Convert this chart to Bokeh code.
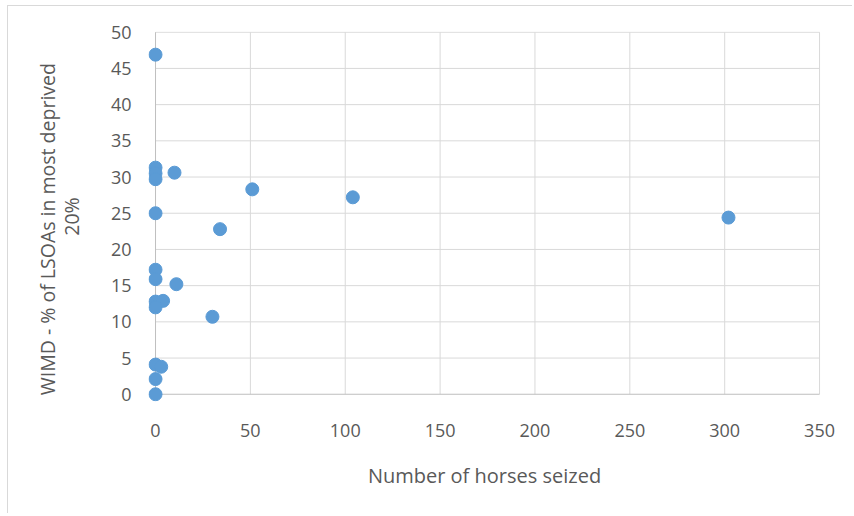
from bokeh.plotting import figure
from bokeh.models import ColumnDataSource, FixedTicker, Range1d
from bokeh.embed import file_html
from bokeh.resources import INLINE

# Data
horses_seized = [0, 0, 0, 0, 10, 51, 104, 302, 0, 34, 0, 0, 11, 0, 4, 0, 30, 0, 3, 0, 0]
wimd_pct = [46.9, 31.3, 30.5, 29.7, 30.6, 28.3, 27.2, 24.4, 25.0, 22.8, 17.2, 15.9, 15.2,
            12.8, 12.9, 12.0, 10.7, 4.1, 3.8, 2.1, 0.0]
x_ticks = [0, 50, 100, 150, 200, 250, 300, 350]
y_ticks = [0, 5, 10, 15, 20, 25, 30, 35, 40, 45, 50]

FONT = "Open Sans"
TEXT = "#595959"
GRID = "#d9d9d9"
AXIS = "#bfbfbf"

x_min, x_max = x_ticks[0], x_ticks[-1]
y_min, y_max = y_ticks[0], y_ticks[-1]

p = figure(output_backend="svg", toolbar_location=None,
           x_range=Range1d(x_min - 3.7, x_max + 0.5), y_range=Range1d(y_min - 1.0, y_max + 0.1),
           frame_width=672, frame_height=370,
           min_border_left=140, min_border_right=32, min_border_top=25, min_border_bottom=112)

# grid lines (drawn as segments so they stop at the axis lines)
p.segment(x0=[x_min] * (len(y_ticks) - 1), x1=[x_max] * (len(y_ticks) - 1),
          y0=y_ticks[1:], y1=y_ticks[1:], line_color=GRID, line_width=1)
p.segment(x0=x_ticks[1:], x1=x_ticks[1:], y0=[y_min] * (len(x_ticks) - 1),
          y1=[y_max] * (len(x_ticks) - 1), line_color=GRID, line_width=1)
# axis lines
p.segment(x0=[x_min, x_min], x1=[x_max, x_min], y0=[y_min, y_min], y1=[y_min, y_max],
          line_color=AXIS, line_width=1)

src = ColumnDataSource(dict(x=horses_seized, y=wimd_pct))
p.scatter("x", "y", source=src, size=13, fill_color="#5b9bd5", line_color="#5b9bd5")

p.xaxis.ticker = FixedTicker(ticks=x_ticks)
p.yaxis.ticker = FixedTicker(ticks=y_ticks)
for ax in (p.xaxis[0], p.yaxis[0]):
    ax.major_tick_line_color = None
    ax.minor_tick_line_color = None
    ax.axis_line_color = None
    ax.major_label_text_font = FONT
    ax.major_label_text_font_size = "18px"
    ax.major_label_text_color = TEXT
    ax.axis_label_text_font = FONT
    ax.axis_label_text_color = TEXT
    ax.axis_label_text_font_style = "normal"

p.xaxis.axis_label = "Number of horses seized"
p.yaxis.axis_label = "WIMD - % of LSOAs in most deprived" + "\u00a0" * 5 + "\n20%"
p.xaxis.axis_label_text_font_size = "20px"
p.yaxis.axis_label_text_font_size = "19.5px"
p.yaxis.axis_label_text_line_height = 0.9
p.xaxis.major_label_standoff = 16
p.xaxis.axis_label_standoff = 22
p.yaxis.major_label_standoff = 11
p.yaxis.axis_label_standoff = 23

p.grid.visible = False
p.outline_line_color = None
p.background_fill_color = "white"
p.border_fill_color = "white"
p.styles = {"margin-left": "7px", "margin-top": "5px",
            "border-top": "1px solid #d9d9d9", "border-left": "1px solid #d9d9d9"}

open("out.html", "w").write(file_html(p, INLINE))
